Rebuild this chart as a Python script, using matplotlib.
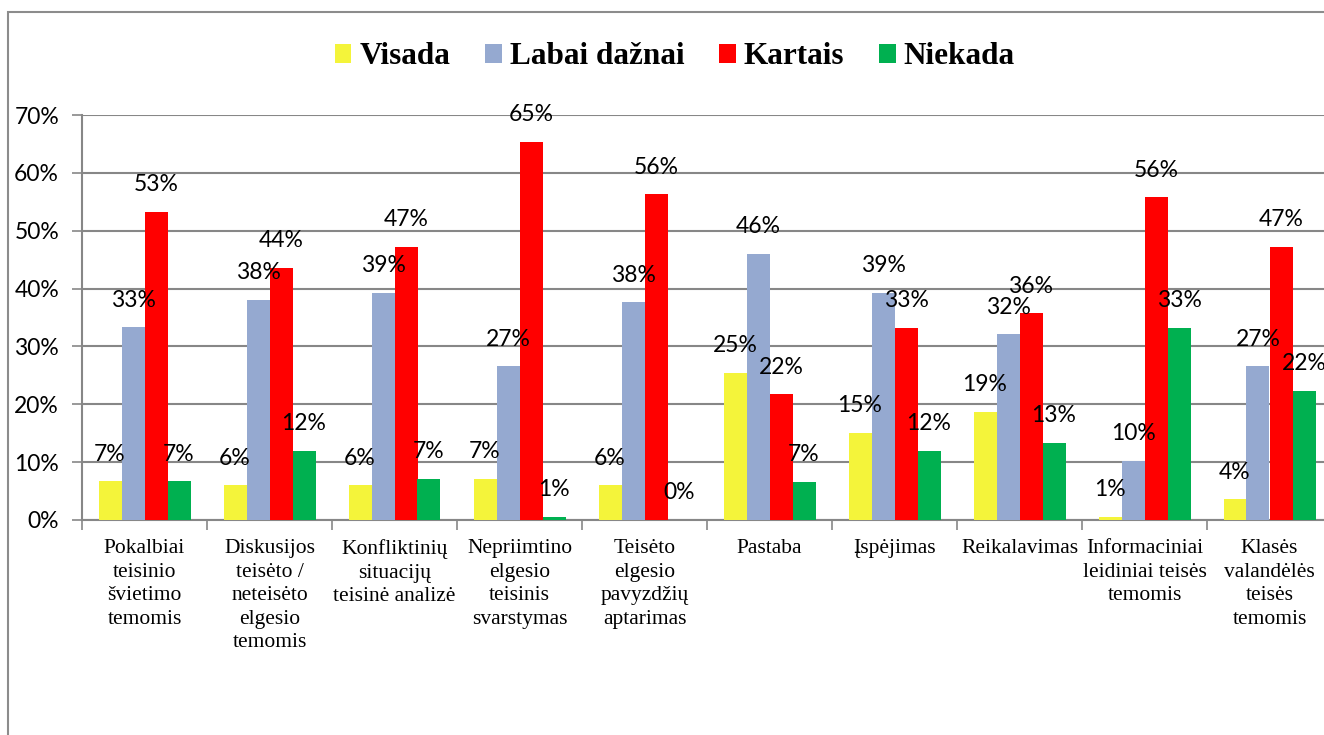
import matplotlib.pyplot as plt
import numpy as np
from matplotlib.patches import Rectangle

categories = [
    "Pokalbiai\nteisinio\nšvietimo\ntemomis",
    "Diskusijos\nteisėto /\nneteisėto\nelgesio\ntemomis",
    "Konfliktinių\nsituacijų\nteisinė analizė",
    "Nepriimtino\nelgesio\nteisinis\nsvarstymas",
    "Teisėto\nelgesio\npavyzdžių\naptarimas",
    "Pastaba",
    "Įspėjimas",
    "Reikalavimas",
    "Informaciniai\nleidiniai teisės\ntemomis",
    "Klasės\nvalandėlės\nteisės\ntemomis",
]
series_names = ["Visada", "Labai dažnai", "Kartais", "Niekada"]
visada = [6.7, 6.0, 6.0, 7.1, 6.0, 25.4, 15.1, 18.7, 0.6, 3.6]
labai_daznai = [33.3, 38.1, 39.3, 26.6, 37.6, 46.0, 39.3, 32.1, 10.2, 26.6]
kartais = [53.3, 43.6, 47.2, 65.4, 56.3, 21.7, 33.2, 35.7, 55.8, 47.2]
niekada = [6.7, 12.0, 7.1, 0.6, 0.0, 6.6, 12.0, 13.3, 33.2, 22.3]
colors = ["#F4F43A", "#95A9D0", "#FF0000", "#00B050"]

W, H = 1324, 735
fig = plt.figure(figsize=(W / 100, H / 100), dpi=100)
ax = fig.add_axes([82 / W, 1 - 520 / H, 1250 / W, 405 / H])

x = np.arange(len(categories))
bw = 0.184
grid_col = "#878787"
handles = []
for k, (vals, c) in enumerate(zip([visada, labai_daznai, kartais, niekada], colors)):
    pos = x + (k - 1.5) * bw
    b = ax.bar(pos, np.array(vals) / 100, width=bw, color=c, zorder=3)
    handles.append(b)
    for px, v in zip(pos, vals):
        ax.annotate(f"{round(v)}%", (px, v / 100), xytext=(0, 19.5),
                    textcoords="offset points", ha="center", va="center",
                    fontsize=16.5, family="Lato", zorder=5)

ax.set_xlim(-0.5, len(categories) - 0.5)
ax.set_ylim(0, 0.70)
ax.set_yticks(np.arange(0, 0.71, 0.1))
ax.set_yticklabels([f"{int(round(t * 100))}%" for t in np.arange(0, 0.71, 0.1)],
                   family="Lato", fontsize=16.5)
ax.yaxis.grid(True, color=grid_col, lw=1.5, zorder=0)
ax.tick_params(axis="y", length=7, width=1.2, color=grid_col, pad=9.5)

ax.set_xticks(np.arange(-0.5, len(categories)))
ax.set_xticklabels([])
ax.tick_params(axis="x", which="major", length=7, width=1.2, color=grid_col)
ax.set_xticks(x, minor=True)
ax.set_xticklabels(categories, minor=True, family="Liberation Serif",
                   fontsize=15.5, linespacing=1.32, va="top")
ax.tick_params(axis="x", which="minor", length=0, pad=14)

for s in ["top", "right"]:
    ax.spines[s].set_visible(False)
for s in ["left", "bottom"]:
    ax.spines[s].set_color(grid_col)
    ax.spines[s].set_linewidth(1.5)

fig.legend(handles, series_names, loc="center", bbox_to_anchor=(675 / W, 1 - 57 / H),
           ncol=4, frameon=False, handlelength=0.52, handleheight=0.52,
           handletextpad=0.26, columnspacing=1.12,
           prop={"family": "Liberation Serif", "weight": "bold", "size": 22.5})

fig.patches.append(Rectangle((8 / W, -0.1), 1.2, 1.1 - 12 / H, transform=fig.transFigure,
                             fill=False, edgecolor="#8c8c8c", lw=1.5))

fig.savefig("out.png", dpi=100, facecolor="white")
